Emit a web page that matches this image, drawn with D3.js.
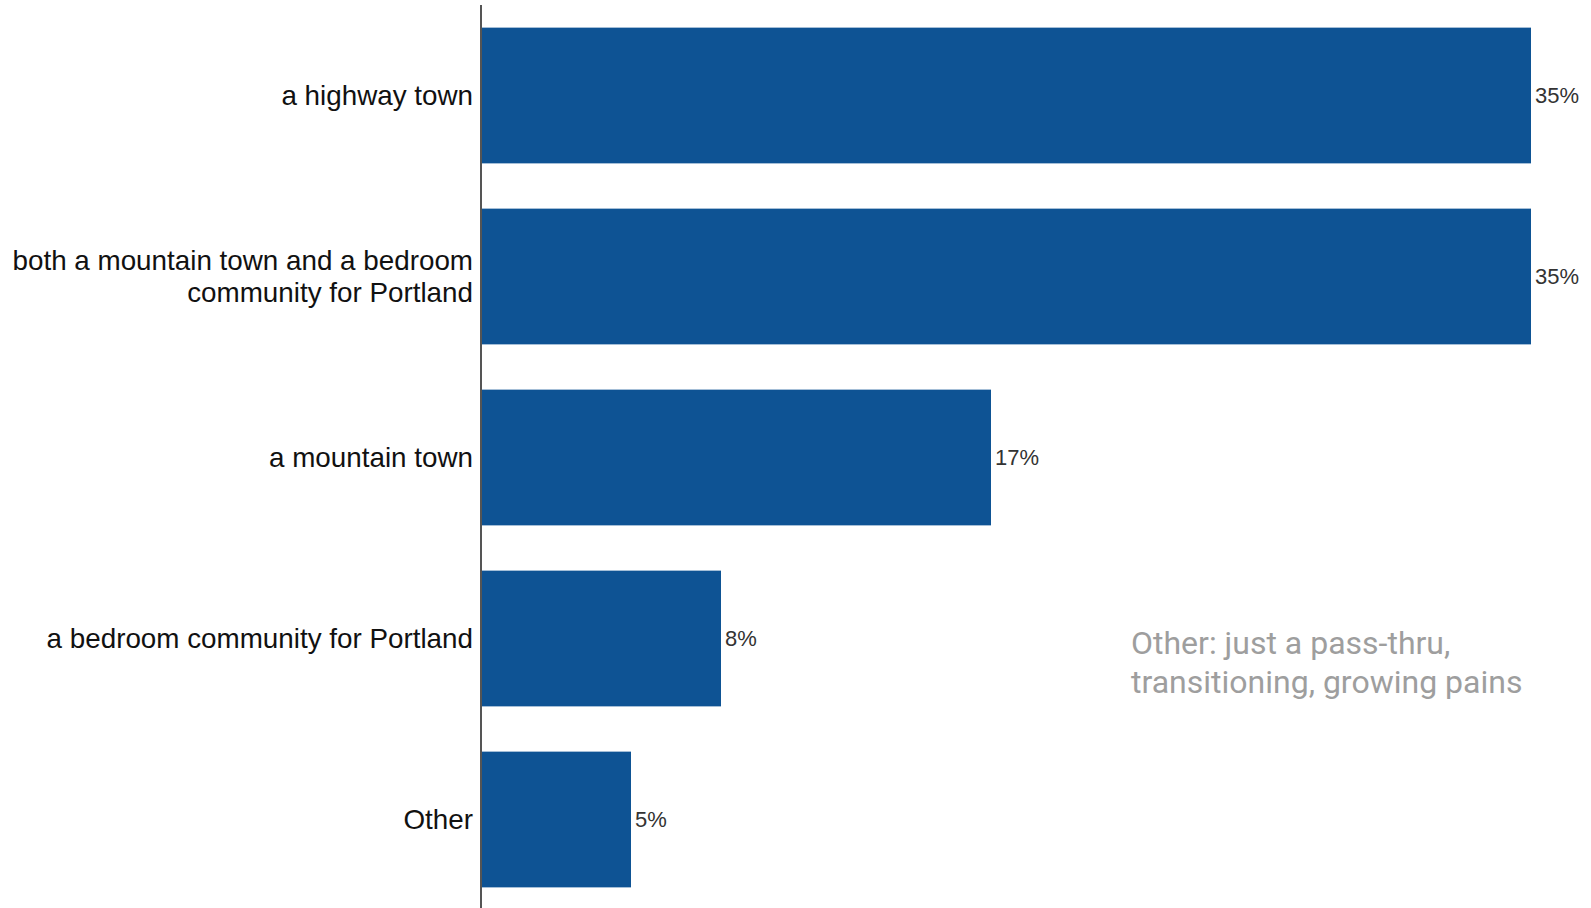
<!DOCTYPE html>
<html>
<head>
<meta charset="utf-8">
<script src="https://cdn.jsdelivr.net/npm/d3@7"></script>
<style>
  html, body { margin: 0; padding: 0; background: #fff; }
  svg { display: block; }
</style>
</head>
<body>
<svg id="chart" width="1591" height="908"></svg>
<script>
// Survey responses: how people describe the town
const categories = [
  ["a highway town"],
  ["both a mountain town and a bedroom", "community for Portland"],
  ["a mountain town"],
  ["a bedroom community for Portland"],
  ["Other"]
];
const values = [35, 35, 17, 8, 5];
const valueLabels = ["35%", "35%", "17%", "8%", "5%"];
const noteLines = ["Other: just a pass-thru,", "transitioning, growing pains"];

const svg = d3.select("#chart");
const axisX = 481;

const x = d3.scaleLinear().domain([0, 35]).range([axisX, 1531]);
const y = d3.scaleBand()
  .domain(d3.range(values.length))
  .range([5, 910])
  .paddingInner(0.25)
  .paddingOuter(0.125);

// bars
svg.append("g").selectAll("rect")
  .data(values)
  .join("rect")
  .attr("x", x(0))
  .attr("y", (d, i) => y(i))
  .attr("width", d => x(d) - x(0))
  .attr("height", y.bandwidth())
  .attr("fill", "#0e5394");

// value labels at bar ends
svg.append("g").selectAll("text")
  .data(values)
  .join("text")
  .attr("x", d => x(d) + 4)
  .attr("y", (d, i) => y(i) + y.bandwidth() / 2)
  .attr("dy", "0.35em")
  .attr("font-family", "Liberation Sans, Arial, sans-serif")
  .attr("font-size", 22)
  .attr("fill", "#333")
  .text((d, i) => valueLabels[i]);

// category labels, right-aligned against the axis
const lineGap = 32.5;
const catG = svg.append("g");
categories.forEach((lines, i) => {
  const cy = y(i) + y.bandwidth() / 2;
  const t = catG.append("text")
    .attr("x", axisX - 8)
    .attr("text-anchor", "end")
    .attr("font-family", "Liberation Sans, Arial, sans-serif")
    .attr("font-size", 27.8)
    .attr("fill", "#111");
  lines.forEach((ln, k) => {
    t.append("tspan")
      .attr("x", axisX - 8)
      .attr("y", cy + (k - (lines.length - 1) / 2) * lineGap)
      .attr("dy", "0.35em")
      .text(ln);
  });
});

// vertical axis line
svg.append("line")
  .attr("x1", axisX).attr("x2", axisX)
  .attr("y1", 5).attr("y2", 908)
  .attr("stroke", "#555")
  .attr("stroke-width", 2);

// note about "Other" answers
const note = svg.append("text")
  .attr("font-family", "Roboto, sans-serif")
  .attr("font-size", 32)
  .attr("fill", "#9e9e9e");
noteLines.forEach((ln, k) => {
  note.append("tspan")
    .attr("x", 1131)
    .attr("y", 643 + k * 38.6)
    .attr("dy", "0.35em")
    .text(ln);
});
</script>
</body>
</html>
